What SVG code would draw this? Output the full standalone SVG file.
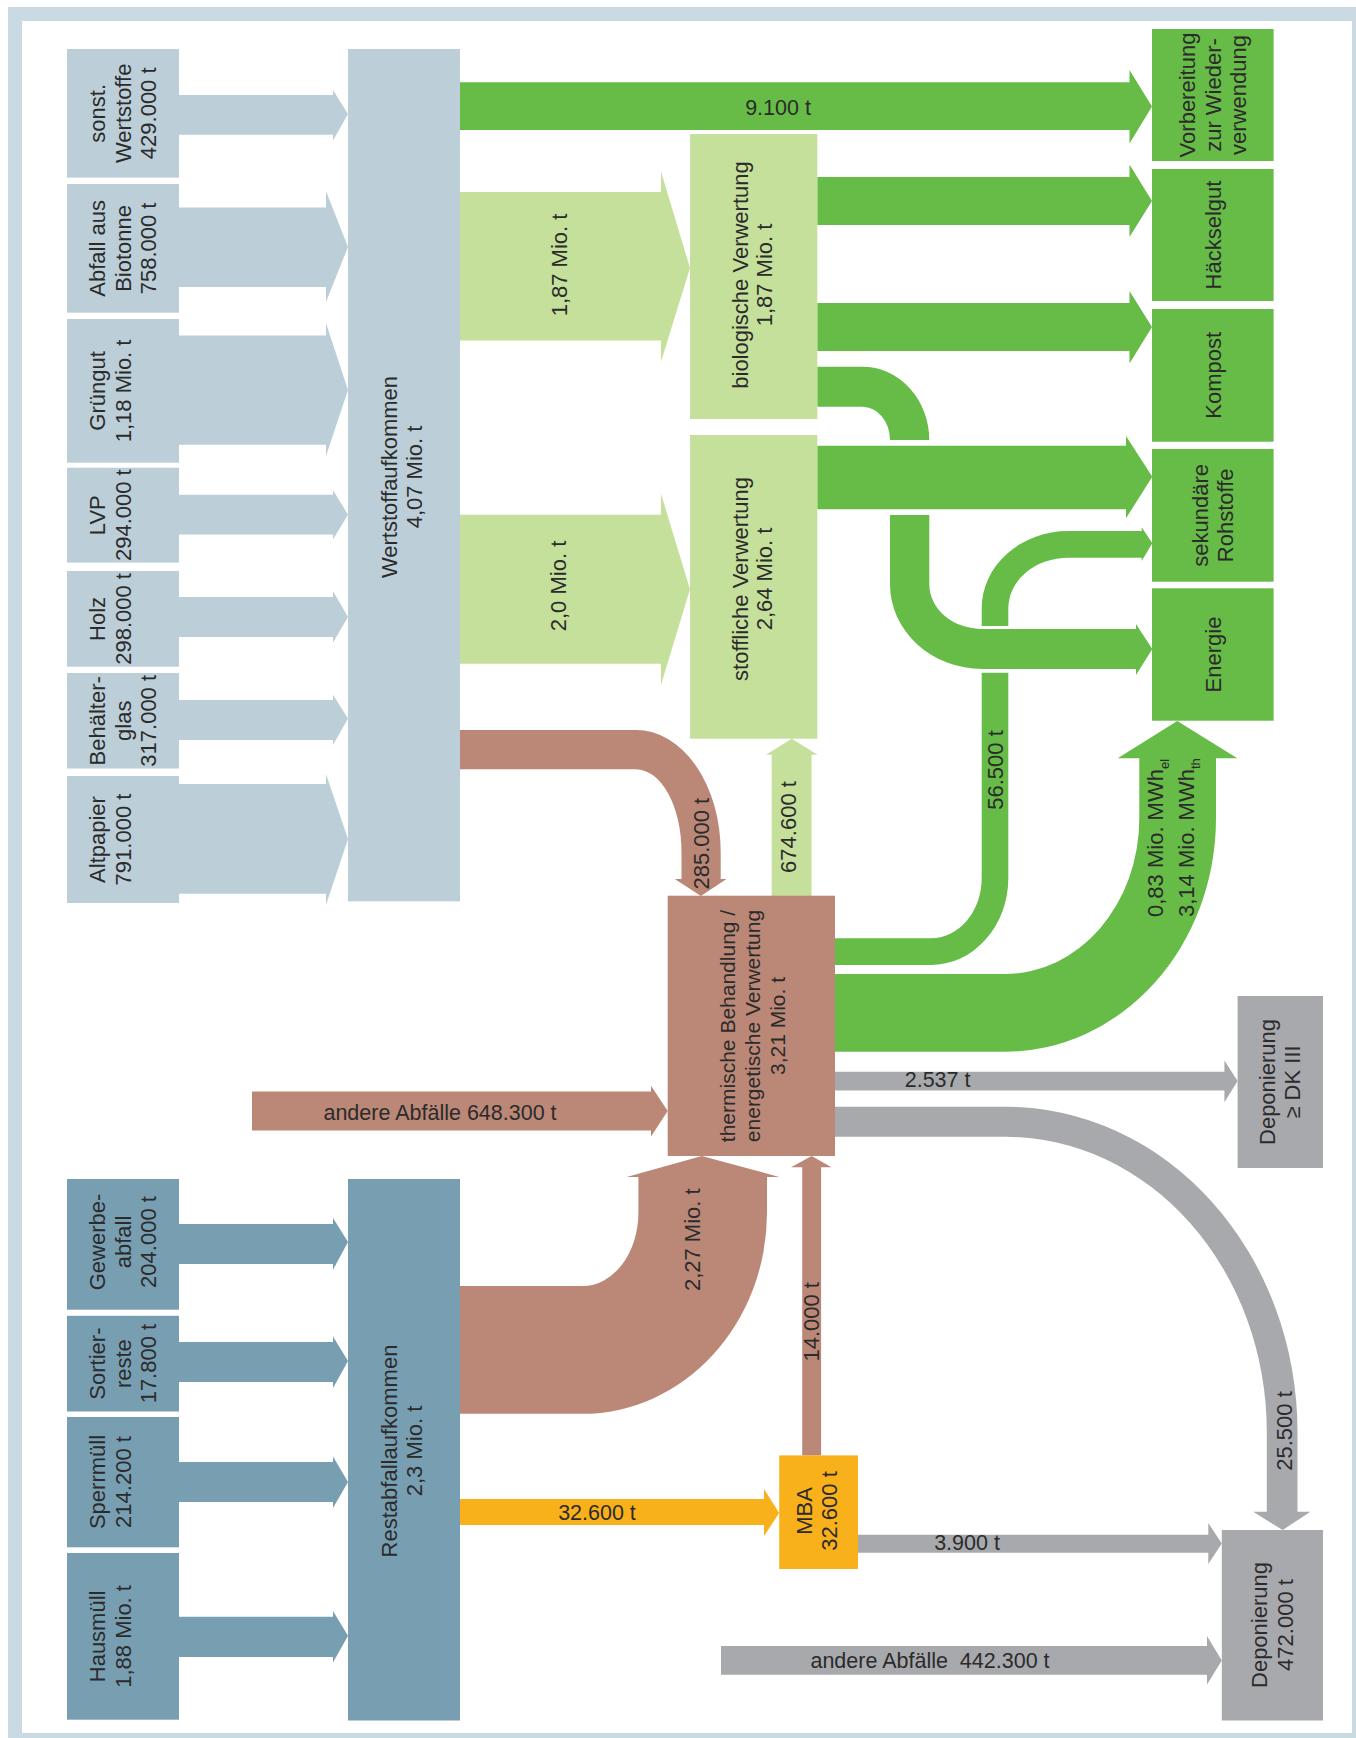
<svg xmlns="http://www.w3.org/2000/svg" width="1356" height="1738" viewBox="0 0 1356 1738">
<style>
.lb{fill:#bccfd8}
.db{fill:#789eb2}
.lg{fill:#c5e09b}
.g{fill:#66bc47}
.br{fill:#bb8877}
.gr{fill:#a8a9ad}
.or{fill:#f9b11b}
text{font-family:"Liberation Sans",Arial,sans-serif;font-size:22px;fill:#2b2b2b}
.h{font-size:21.5px;text-anchor:middle}
.m{text-anchor:middle}
.sub{font-size:13px}
</style>
<rect x="0" y="0" width="1356" height="1738" fill="#ffffff"/>
<rect x="15" y="14" width="1344" height="1726" fill="none" stroke="#c9dae2" stroke-width="14"/>

<g id="connectors">
  <!-- inputs to Wertstoffaufkommen -->
  <path class="lb" d="M179 95 L333 95 L333 90 L348 114 L333 140.5 L333 134.7 L179 134.7 Z"/>
  <path class="lb" d="M179 207.4 L326 207.4 L326 191 L348 247 L326 302 L326 287 L179 287 Z"/>
  <path class="lb" d="M179 335.6 L326 335.6 L326 323 L348 390 L326 456 L326 444.7 L179 444.7 Z"/>
  <path class="lb" d="M179 494.8 L333 494.8 L333 490 L348 514.7 L333 539.6 L333 534.6 L179 534.6 Z"/>
  <path class="lb" d="M179 597 L333 597 L333 591 L348 617 L333 642.6 L333 637 L179 637 Z"/>
  <path class="lb" d="M179 700 L333 700 L333 694.7 L348 718.4 L333 745 L333 740 L179 740 Z"/>
  <path class="lb" d="M179 784 L326 784 L326 774 L348 839 L326 905 L326 893.7 L179 893.7 Z"/>
  <!-- inputs to Restabfallaufkommen -->
  <path class="db" d="M179 1224 L333 1224 L333 1218 L348 1242 L333 1269.7 L333 1264 L179 1264 Z"/>
  <path class="db" d="M179 1342 L333 1342 L333 1336.4 L348 1361 L333 1388 L333 1382 L179 1382 Z"/>
  <path class="db" d="M179 1462 L333 1462 L333 1456.6 L348 1482 L333 1508 L333 1502 L179 1502 Z"/>
  <path class="db" d="M179 1616.7 L333 1616.7 L333 1611 L348 1635.8 L333 1662.5 L333 1657 L179 1657 Z"/>
  <!-- from Wertstoffaufkommen -->
  <path class="g" d="M460 82.3 L1129.5 82.3 L1129.5 70 L1152 106.4 L1129.5 143.5 L1129.5 130 L460 130 Z"/>
  <path class="lg" d="M460 192 L661 192 L661 171.5 L690 268 L661 361.7 L661 340.6 L460 340.6 Z"/>
  <path class="lg" d="M460 514.7 L661 514.7 L661 493.7 L690 589.2 L661 684.7 L661 663.7 L460 663.7 Z"/>
  <path class="br" d="M460 730 L636 730 A84.7 122 0 0 1 720.7 852 L720.7 879 L726.5 879 L700.9 896 L674.8 879 L681.5 879 L681.5 852 A45.5 82.7 0 0 0 636 769.3 L460 769.3 Z"/>
  <!-- from biologische Verwertung -->
  <path class="g" d="M817.3 177 L1129.5 177 L1129.5 164.6 L1152 201 L1129.5 237 L1129.5 225 L817.3 225 Z"/>
  <path class="g" d="M817.3 303 L1129.5 303 L1129.5 291 L1152 327 L1129.5 363.6 L1129.5 351 L817.3 351 Z"/>
  <path class="g" d="M817.3 366.7 L862.3 366.7 A67 73.3 0 0 1 929.3 440 L890 440 A27.7 33.3 0 0 0 862.3 406.7 L817.3 406.7 Z"/>
  <path class="g" d="M890 515 L929.3 515 L929.3 584.3 A53 44.7 0 0 0 982.3 629 L1136 629 L1136 624 L1152.3 649 L1136 675 L1136 669 L982.3 669 A92.3 84.7 0 0 1 890 584.3 Z"/>
  <!-- from stoffliche Verwertung -->
  <path class="g" d="M817.3 445.7 L1126 445.7 L1126 436 L1152.3 476.7 L1126 518.3 L1126 509.3 L817.3 509.3 Z"/>
  <!-- from thermische Behandlung -->
  <path class="lg" d="M771.7 896 L771.7 754.7 L766 754.7 L791.8 738.7 L817.5 754.7 L811.5 754.7 L811.5 896 Z"/>
  <path class="g" d="M835 938.3 L930.7 938.3 A51 60 0 0 0 981.7 878.3 L981.7 672.7 L1008.3 672.7 L1008.3 878.3 A77.6 86.7 0 0 1 930.7 965 L835 965 Z"/>
  <path class="g" d="M981.7 626 L981.7 608.3 A86.6 77.3 0 0 1 1068.3 531 L1141.7 531 L1141.7 527.3 L1152.3 543.3 L1141.7 561 L1141.7 557.7 L1068.3 557.7 A60 50.6 0 0 0 1008.3 608.3 L1008.3 626 Z"/>
  <path class="g" d="M835 974 L1005 974 A134.3 155.7 0 0 0 1139.3 818.3 L1139.3 758.3 L1117.7 758.3 L1177.3 721 L1237.3 758.3 L1216 758.3 L1216 818.3 A211 233.4 0 0 1 1005 1051.7 L835 1051.7 Z"/>
  <path class="gr" d="M835 1071.8 L1224.4 1071.8 L1224.4 1060.5 L1237.6 1081 L1224.4 1102.2 L1224.4 1090.6 L835 1090.6 Z"/>
  <path class="gr" d="M835 1106.7 L1005.6 1106.7 A291.9 325.3 0 0 1 1297.5 1432 L1297.5 1511.8 L1310.5 1511.8 L1282.6 1530 L1253.3 1511.8 L1266.8 1511.8 L1266.8 1432 A261.2 295.2 0 0 0 1005.6 1136.8 L835 1136.8 Z"/>
  <!-- other inputs -->
  <path class="br" d="M252 1091.5 L651 1091.5 L651 1085.8 L667.7 1111 L651 1136.5 L651 1130.6 L252 1130.6 Z"/>
  <path class="gr" d="M721 1646 L1207 1646 L1207 1636 L1221.8 1660.6 L1207 1684.6 L1207 1674.7 L721 1674.7 Z"/>
  <!-- from Restabfallaufkommen -->
  <path class="br" d="M460 1286 L582.6 1286 A55.8 73.5 0 0 0 638.4 1212.5 L638.4 1177 L626.7 1177 L701.8 1156 L779.3 1177 L767 1177 L767 1212.5 A184.4 201.3 0 0 1 582.6 1413.8 L460 1413.8 Z"/>
  <path class="or" d="M460 1499 L764 1499 L764 1489 L779.2 1513 L764 1536 L764 1525 L460 1525 Z"/>
  <!-- from MBA -->
  <path class="br" d="M802.2 1455.4 L802.2 1167.3 L791 1167.3 L811.6 1156 L831.5 1167.3 L821.1 1167.3 L821.1 1455.4 Z"/>
  <path class="gr" d="M858 1534.7 L1208.3 1534.7 L1208.3 1523 L1221.8 1543.5 L1208.3 1564 L1208.3 1552.7 L858 1552.7 Z"/>

  <!-- connector labels -->
  <text class="h" x="778" y="114.8">9.100 t</text>
  <text class="m" transform="translate(567,265) rotate(-90)">1,87 Mio. t</text>
  <text class="m" transform="translate(566,586) rotate(-90)">2,0 Mio. t</text>
  <text class="m" transform="translate(708.5,843.7) rotate(-90)">285.000 t</text>
  <text class="m" transform="translate(796,827) rotate(-90)">674.600 t</text>
  <text class="m" transform="translate(1003.4,770) rotate(-90)">56.500 t</text>
  <text transform="translate(1163.3,917) rotate(-90)">0,83 Mio. MWh<tspan class="sub" dy="6">el</tspan></text>
  <text transform="translate(1194,917) rotate(-90)">3,14 Mio. MWh<tspan class="sub" dy="6">th</tspan></text>
  <text class="h" x="937.6" y="1086.8">2.537 t</text>
  <text class="h" x="440" y="1120.2">andere Abfälle 648.300 t</text>
  <text class="m" transform="translate(700.4,1239.7) rotate(-90)">2,27 Mio. t</text>
  <text class="m" transform="translate(818.8,1321.8) rotate(-90)">14.000 t</text>
  <text class="m" transform="translate(1291.6,1431) rotate(-90)">25.500 t</text>
  <text class="h" x="597" y="1519.5">32.600 t</text>
  <text class="h" x="967" y="1550">3.900 t</text>
  <text class="h" x="930" y="1668.2">andere Abfälle&#160; 442.300 t</text>
</g>

<g id="sonst">
  <rect class="lb" x="67" y="49" width="112" height="128.6"/>
  <text class="m" transform="translate(0,113.3) rotate(-90)"><tspan x="0" y="105">sonst.</tspan><tspan x="0" y="130.5">Wertstoffe</tspan><tspan x="0" y="156">429.000 t</tspan></text>
</g>
<g id="biotonne">
  <rect class="lb" x="67" y="184" width="112" height="128.7"/>
  <text class="m" transform="translate(0,248.4) rotate(-90)"><tspan x="0" y="105">Abfall aus</tspan><tspan x="0" y="130.5">Biotonne</tspan><tspan x="0" y="156">758.000 t</tspan></text>
</g>
<g id="gruengut">
  <rect class="lb" x="67" y="319" width="112" height="143.7"/>
  <text class="m" transform="translate(0,390.9) rotate(-90)"><tspan x="0" y="105">Grüngut</tspan><tspan x="0" y="130.5">1,18 Mio. t</tspan></text>
</g>
<g id="lvp">
  <rect class="lb" x="67" y="467.7" width="112" height="94.9"/>
  <text class="m" transform="translate(0,515.2) rotate(-90)"><tspan x="0" y="105">LVP</tspan><tspan x="0" y="130.5">294.000 t</tspan></text>
</g>
<g id="holz">
  <rect class="lb" x="67" y="571" width="112" height="95.7"/>
  <text class="m" transform="translate(0,618.9) rotate(-90)"><tspan x="0" y="105">Holz</tspan><tspan x="0" y="130.5">298.000 t</tspan></text>
</g>
<g id="behaelterglas">
  <rect class="lb" x="67" y="673" width="112" height="95.5"/>
  <text class="m" transform="translate(0,720.8) rotate(-90)"><tspan x="0" y="105">Behälter-</tspan><tspan x="0" y="130.5">glas</tspan><tspan x="0" y="156">317.000 t</tspan></text>
</g>
<g id="altpapier">
  <rect class="lb" x="67" y="776" width="112" height="127"/>
  <text class="m" transform="translate(0,839.5) rotate(-90)"><tspan x="0" y="105">Altpapier</tspan><tspan x="0" y="130.5">791.000 t</tspan></text>
</g>
<g id="wertstoffaufkommen">
  <rect class="lb" x="348" y="49" width="112" height="852.3"/>
  <text class="m" transform="translate(0,477) rotate(-90)"><tspan x="0" y="396.5">Wertstoffaufkommen</tspan><tspan x="0" y="422">4,07 Mio. t</tspan></text>
</g>

<g id="gewerbeabfall">
  <rect class="db" x="67" y="1179" width="112" height="130.7"/>
  <text class="m" transform="translate(0,1242) rotate(-90)"><tspan x="0" y="105">Gewerbe-</tspan><tspan x="0" y="130.5">abfall</tspan><tspan x="0" y="156">204.000 t</tspan></text>
</g>
<g id="sortierreste">
  <rect class="db" x="67" y="1315.8" width="112" height="95.7"/>
  <text class="m" transform="translate(0,1363.6) rotate(-90)"><tspan x="0" y="105">Sortier-</tspan><tspan x="0" y="130.5">reste</tspan><tspan x="0" y="156">17.800 t</tspan></text>
</g>
<g id="sperrmuell">
  <rect class="db" x="67" y="1417" width="112" height="130.3"/>
  <text class="m" transform="translate(0,1482) rotate(-90)"><tspan x="0" y="105">Sperrmüll</tspan><tspan x="0" y="130.5">214.200 t</tspan></text>
</g>
<g id="hausmuell">
  <rect class="db" x="67" y="1553" width="112" height="166.7"/>
  <text class="m" transform="translate(0,1636.4) rotate(-90)"><tspan x="0" y="105">Hausmüll</tspan><tspan x="0" y="130.5">1,88 Mio. t</tspan></text>
</g>
<g id="restabfallaufkommen">
  <rect class="db" x="348" y="1179" width="112" height="541.5"/>
  <text class="m" transform="translate(0,1451) rotate(-90)"><tspan x="0" y="396.5">Restabfallaufkommen</tspan><tspan x="0" y="422">2,3 Mio. t</tspan></text>
</g>

<g id="biologische">
  <rect class="lg" x="690" y="134" width="127.3" height="285"/>
  <text class="m" transform="translate(0,275) rotate(-90)"><tspan x="0" y="747.5">biologische Verwertung</tspan><tspan x="0" y="772">1,87 Mio. t</tspan></text>
</g>
<g id="stoffliche">
  <rect class="lg" x="690" y="435" width="127.3" height="303.7"/>
  <text class="m" transform="translate(0,579) rotate(-90)"><tspan x="0" y="747.5">stoffliche Verwertung</tspan><tspan x="0" y="772">2,64 Mio. t</tspan></text>
</g>
<g id="thermische">
  <rect class="br" x="667.7" y="895.7" width="167.3" height="260.3"/>
  <text class="m" style="font-size:21px" transform="translate(0,1026) rotate(-90)"><tspan x="0" y="734.5">thermische Behandlung /</tspan><tspan x="0" y="759.5">energetische Verwertung</tspan><tspan x="0" y="784.5">3,21 Mio. t</tspan></text>
</g>
<g id="mba">
  <rect class="or" x="779.2" y="1455.4" width="78.8" height="113.6"/>
  <text class="m" transform="translate(0,1511) rotate(-90)"><tspan x="0" y="811.5">MBA</tspan><tspan x="0" y="836.5">32.600 t</tspan></text>
</g>

<g id="vorbereitung">
  <rect class="g" x="1152" y="29" width="121.6" height="132"/>
  <text class="m" transform="translate(0,95) rotate(-90)"><tspan x="0" y="1195">Vorbereitung</tspan><tspan x="0" y="1220.5">zur Wieder-</tspan><tspan x="0" y="1246">verwendung</tspan></text>
</g>
<g id="haeckselgut">
  <rect class="g" x="1152" y="169" width="121.6" height="132"/>
  <text class="m" transform="translate(0,235) rotate(-90)"><tspan x="0" y="1220.5">Häckselgut</tspan></text>
</g>
<g id="kompost">
  <rect class="g" x="1152" y="309" width="121.6" height="132.7"/>
  <text class="m" transform="translate(0,375.3) rotate(-90)"><tspan x="0" y="1220.5">Kompost</tspan></text>
</g>
<g id="sekundaere">
  <rect class="g" x="1152" y="449" width="121.6" height="132.7"/>
  <text class="m" transform="translate(0,515.3) rotate(-90)"><tspan x="0" y="1207.5">sekundäre</tspan><tspan x="0" y="1233">Rohstoffe</tspan></text>
</g>
<g id="energie">
  <rect class="g" x="1152" y="588.3" width="121.6" height="132.4"/>
  <text class="m" transform="translate(0,654.5) rotate(-90)"><tspan x="0" y="1220.5">Energie</tspan></text>
</g>
<g id="deponierung-dk3">
  <rect class="gr" x="1237.6" y="996" width="85.4" height="172"/>
  <text class="m" transform="translate(0,1082) rotate(-90)"><tspan x="0" y="1274.5">Deponierung</tspan><tspan x="0" y="1300">≥ DK III</tspan></text>
</g>
<g id="deponierung">
  <rect class="gr" x="1221.8" y="1530" width="101.2" height="190.5"/>
  <text class="m" transform="translate(0,1625) rotate(-90)"><tspan x="0" y="1267">Deponierung</tspan><tspan x="0" y="1292.5">472.000 t</tspan></text>
</g>
</svg>
